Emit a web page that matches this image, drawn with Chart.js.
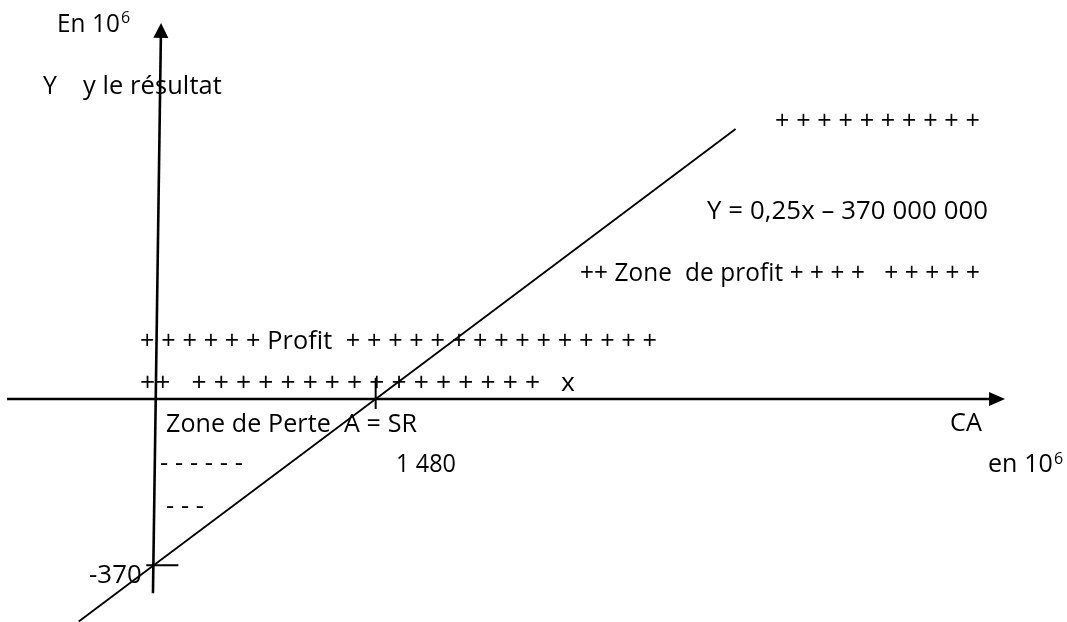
<!DOCTYPE html>
<html>
<head>
<meta charset="utf-8">
<script src="https://cdn.jsdelivr.net/npm/chart.js@4/dist/chart.umd.min.js"></script>
<style>
  html, body { margin: 0; padding: 0; background: #fff; }
  #wrap { width: 1067px; height: 622px; }
</style>
</head>
<body>
<div id="wrap"><canvas id="c" width="1067" height="622"></canvas></div>
<script>
// Résultat Y = 0,25x – 370 (en millions) selon le chiffre d'affaires x
const caValues = [-500, 0, 1480, 3880];          // chiffre d'affaires (10^6)
const resultValues = [-495, -370, 0, 600];        // résultat (10^6)
const seuilRentabilite = 1480;                    // A = SR
const chargesFixes = -370;                        // résultat pour CA nul
const tickLabels = ['-370', '1 480'];

// Axes of the diagram, in data units
const xAxisFrom = -978, xAxisTo = 5677;
const yAxisBottom = { x: -5, y: -432 };
const yAxisTip = { x: 49, y: 836 };

// Annotation texts (anchor = left / baseline, in data units; w = drawn width in px)
const annotations = [
  { text: 'En 10', sup: '6', x: -645, y: 816, w: 63 },
  { text: 'Y', x: -738, y: 678, w: 14 },
  { text: 'y le résultat', x: -472, y: 678, w: 139 },
  { text: '+ + + + + + + + + +', x: 4143, y: 600, w: 205 },
  { text: 'Y = 0,25x \u2013 370 000 000', x: 3690, y: 400, w: 281 },
  { text: '++ Zone  de profit + + + +   + + + + +', x: 2843, y: 262, w: 400 },
  { text: '+ + + + + + Profit  + + + + + + + + + + + + + + +', x: -91, y: 111, w: 517 },
  { text: '++   + + + + + + + + + + + + + + + +   x', x: -91, y: 18, w: 435 },
  { text: 'Zone de Perte  A = SR', x: 82, y: -74, w: 251 },
  { text: 'CA', x: 5310, y: -71, w: 32 },
  { text: 'en 10', sup: '6', x: 5563, y: -162.5, w: 65 },
  { text: tickLabels[1], x: 1616, y: -162.5, w: 60 },
  { text: '- - - - - -', x: 42, y: -160, w: 83 },
  { text: '- - -', x: 82, y: -256, w: 38 },
  { text: tickLabels[0], x: -432, y: -409, w: 53 }
];

const FONT = '25px "Open Sans", Lato, sans-serif';
const SUP_FONT = '16px "Open Sans", Lato, sans-serif';

function arrowHead(ctx, tipX, tipY, dx, dy, len, half) {
  const bx = tipX - dx * len, by = tipY - dy * len;
  const nx = -dy, ny = dx;
  ctx.beginPath();
  ctx.moveTo(tipX, tipY);
  ctx.lineTo(bx + nx * half, by + ny * half);
  ctx.lineTo(bx - nx * half, by - ny * half);
  ctx.closePath();
  ctx.fill();
}

const diagramPlugin = {
  id: 'diagram',
  afterDatasetsDraw(chart) {
    const ctx = chart.ctx;
    const xs = chart.scales.x, ys = chart.scales.y;
    const X = v => xs.getPixelForValue(v), Y = v => ys.getPixelForValue(v);
    ctx.save();
    ctx.strokeStyle = '#000';
    ctx.fillStyle = '#000';
    ctx.lineCap = 'butt';

    // horizontal axis (CA)
    const ax0 = Y(0);
    ctx.lineWidth = 2.6;
    ctx.beginPath();
    ctx.moveTo(X(xAxisFrom), ax0);
    ctx.lineTo(X(xAxisTo) - 12, ax0);
    ctx.stroke();
    arrowHead(ctx, X(xAxisTo), ax0, 1, 0, 16, 7);

    // vertical axis (résultat), slightly slanted
    const bx = X(yAxisBottom.x), by = Y(yAxisBottom.y);
    const tx = X(yAxisTip.x), ty = Y(yAxisTip.y);
    const L = Math.hypot(tx - bx, ty - by);
    const ux = (tx - bx) / L, uy = (ty - by) / L;
    ctx.beginPath();
    ctx.moveTo(bx, by);
    ctx.lineTo(tx - ux * 12, ty - uy * 12);
    ctx.stroke();
    arrowHead(ctx, tx, ty, ux, uy, 15, 7.5);

    // tick at the break-even point
    ctx.lineWidth = 2;
    const sx = X(seuilRentabilite);
    ctx.beginPath();
    ctx.moveTo(sx, ax0 - 21);
    ctx.lineTo(sx, ax0 + 10);
    ctx.stroke();

    // tick at the fixed-cost level on the vertical axis
    const fy = Y(chargesFixes);
    const fx = bx + (tx - bx) * (fy - by) / (ty - by);
    ctx.beginPath();
    ctx.moveTo(fx - 7, fy);
    ctx.lineTo(fx + 25, fy);
    ctx.stroke();

    // texts (tiny letter spacing keeps "fi" as two separate letters)
    ctx.textBaseline = 'alphabetic';
    ctx.textAlign = 'left';
    if ('letterSpacing' in ctx) ctx.letterSpacing = '0.1px';
    annotations.forEach(a => {
      const px = X(a.x), py = Y(a.y);
      ctx.font = FONT;
      const m = ctx.measureText(a.text).width;
      const s = a.w ? a.w / m : 1;
      ctx.save();
      ctx.translate(px, py);
      ctx.scale(s, 1);
      ctx.fillText(a.text, 0, 0);
      ctx.restore();
      if (a.sup) {
        ctx.font = SUP_FONT;
        ctx.fillText(a.sup, px + (a.w || m) + 1, py - 8.5);
      }
    });
    ctx.restore();
  }
};

new Chart(document.getElementById('c'), {
  type: 'scatter',
  data: {
    datasets: [{
      label: 'Résultat',
      data: caValues.map((v, i) => ({ x: v, y: resultValues[i] })),
      showLine: true,
      borderColor: '#000',
      borderWidth: 1.8,
      pointRadius: 0,
      tension: 0,
      fill: false
    }]
  },
  options: {
    responsive: false,
    animation: false,
    layout: { padding: 0 },
    plugins: { legend: { display: false }, tooltip: { enabled: false } },
    scales: {
      x: { type: 'linear', min: -1025, max: 6090, display: false },
      y: { type: 'linear', min: -496, max: 887, display: false }
    }
  },
  plugins: [diagramPlugin]
});
</script>
</body>
</html>
